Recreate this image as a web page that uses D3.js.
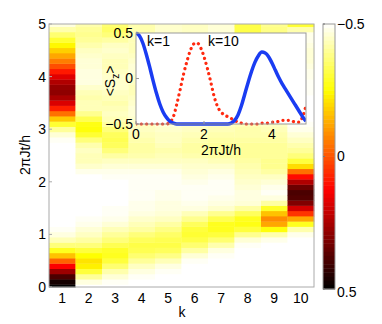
<!DOCTYPE html>
<html>
<head>
<meta charset="utf-8">
<script src="https://cdn.jsdelivr.net/npm/d3@7"></script>
<style>
  body { margin: 0; background: #fff; }
  text { font-family: "Liberation Sans", Arial, sans-serif; font-size: 14px; fill: #000; }
</style>
</head>
<body>
<div class="content"></div>
<script>
// DATA  (<Sz> per site k, sampled every 0.1 in 2*pi*J*t/h from 0 to 5)
var ks = [1, 2, 3, 4, 5, 6, 7, 8, 9, 10];
var times = d3.range(51).map(function(i) { return +(i * 0.1).toFixed(1); });

var k1 = [0.50, 0.47, 0.39, 0.27, 0.13, -0.02, -0.16, -0.28, -0.37, -0.43,
  -0.47, -0.49, -0.50, -0.50, -0.50, -0.50, -0.50, -0.50, -0.50, -0.50,
  -0.50, -0.50, -0.50, -0.50, -0.50, -0.50, -0.50, -0.50, -0.49, -0.46,
  -0.40, -0.30, -0.17, -0.04, 0.08, 0.18, 0.25, 0.29, 0.28, 0.24,
  0.17, 0.09, 0.01, -0.06, -0.12, -0.18, -0.24, -0.30, -0.36, -0.42, -0.47];
var k2 = [-0.50, -0.47, -0.40, -0.31, -0.23, -0.21, -0.25, -0.31, -0.37, -0.41,
  -0.44, -0.46, -0.48, -0.49, -0.50, -0.50, -0.50, -0.50, -0.50, -0.50,
  -0.50, -0.50, -0.48, -0.45, -0.43, -0.43, -0.44, -0.42, -0.37, -0.30,
  -0.26, -0.27, -0.33, -0.39, -0.43, -0.43, -0.42, -0.43, -0.45, -0.47,
  -0.47, -0.47, -0.46, -0.46, -0.45, -0.44, -0.42, -0.40, -0.39, -0.40, -0.42];
var k3 = [-0.50, -0.49, -0.46, -0.42, -0.36, -0.31, -0.28, -0.29, -0.33, -0.37,
  -0.40, -0.43, -0.46, -0.48, -0.49, -0.49, -0.50, -0.50, -0.50, -0.50,
  -0.50, -0.49, -0.48, -0.46, -0.44, -0.41, -0.37, -0.34, -0.33, -0.34,
  -0.37, -0.41, -0.43, -0.44, -0.43, -0.42, -0.43, -0.44, -0.45, -0.45,
  -0.45, -0.44, -0.43, -0.43, -0.44, -0.45, -0.44, -0.41, -0.37, -0.35, -0.36];
var k4 = [-0.50, -0.50, -0.49, -0.47, -0.44, -0.40, -0.36, -0.33, -0.32, -0.34,
  -0.37, -0.41, -0.43, -0.45, -0.47, -0.48, -0.48, -0.49, -0.49, -0.49,
  -0.49, -0.49, -0.48, -0.46, -0.44, -0.42, -0.41, -0.41, -0.42, -0.43,
  -0.44, -0.44, -0.45, -0.46, -0.46, -0.45, -0.44, -0.43, -0.43, -0.44,
  -0.45, -0.46, -0.46, -0.45, -0.44, -0.43, -0.43, -0.43, -0.43, -0.42, -0.42];
var k5 = [-0.50, -0.50, -0.50, -0.49, -0.47, -0.43, -0.38, -0.34, -0.32, -0.33,
  -0.35, -0.38, -0.41, -0.44, -0.46, -0.47, -0.47, -0.48, -0.48, -0.49,
  -0.49, -0.49, -0.48, -0.46, -0.44, -0.43, -0.42, -0.43, -0.44, -0.44,
  -0.45, -0.46, -0.46, -0.46, -0.45, -0.44, -0.44, -0.44, -0.45, -0.46,
  -0.46, -0.46, -0.45, -0.45, -0.45, -0.45, -0.45, -0.45, -0.45, -0.45, -0.45];
var k6 = [-0.50, -0.50, -0.50, -0.50, -0.50, -0.49, -0.46, -0.41, -0.36, -0.32,
  -0.30, -0.31, -0.34, -0.39, -0.43, -0.47, -0.48, -0.49, -0.49, -0.49,
  -0.48, -0.47, -0.46, -0.45, -0.44, -0.42, -0.41, -0.41, -0.42, -0.43,
  -0.44, -0.45, -0.46, -0.46, -0.46, -0.45, -0.44, -0.44, -0.44, -0.45,
  -0.46, -0.46, -0.46, -0.45, -0.45, -0.44, -0.44, -0.44, -0.44, -0.44, -0.44];
var k7 = [-0.50, -0.50, -0.50, -0.50, -0.50, -0.50, -0.49, -0.47, -0.42, -0.36,
  -0.31, -0.28, -0.28, -0.33, -0.39, -0.45, -0.47, -0.48, -0.49, -0.49,
  -0.49, -0.48, -0.47, -0.45, -0.43, -0.41, -0.40, -0.40, -0.41, -0.42,
  -0.43, -0.44, -0.45, -0.46, -0.46, -0.46, -0.45, -0.44, -0.44, -0.44,
  -0.45, -0.46, -0.46, -0.46, -0.46, -0.46, -0.46, -0.46, -0.46, -0.46, -0.46];
var k8 = [-0.50, -0.50, -0.50, -0.50, -0.50, -0.50, -0.50, -0.50, -0.49, -0.46,
  -0.39, -0.31, -0.27, -0.28, -0.34, -0.41, -0.46, -0.47, -0.47, -0.46,
  -0.45, -0.44, -0.43, -0.42, -0.41, -0.40, -0.40, -0.40, -0.41, -0.42,
  -0.42, -0.43, -0.44, -0.45, -0.46, -0.46, -0.45, -0.44, -0.43, -0.42,
  -0.42, -0.41, -0.40, -0.39, -0.38, -0.37, -0.36, -0.35, -0.34, -0.32, -0.32];
var k9 = [-0.50, -0.50, -0.50, -0.50, -0.50, -0.50, -0.50, -0.50, -0.50, -0.48,
  -0.42, -0.26, -0.12, -0.08, -0.16, -0.29, -0.41, -0.47, -0.49, -0.48,
  -0.46, -0.44, -0.41, -0.39, -0.39, -0.40, -0.40, -0.40, -0.41, -0.42,
  -0.43, -0.44, -0.45, -0.46, -0.46, -0.47, -0.47, -0.46, -0.45, -0.44,
  -0.43, -0.42, -0.41, -0.40, -0.40, -0.39, -0.39, -0.38, -0.38, -0.38, -0.39];
var k10 = [-0.50, -0.50, -0.50, -0.50, -0.50, -0.50, -0.50, -0.50, -0.50, -0.50,
  -0.48, -0.42, -0.28, -0.12, 0.05, 0.19, 0.31, 0.38, 0.39, 0.34,
  0.24, 0.11, -0.04, -0.20, -0.31, -0.37, -0.40, -0.42, -0.44, -0.46,
  -0.48, -0.49, -0.50, -0.50, -0.50, -0.50, -0.50, -0.49, -0.49, -0.49,
  -0.48, -0.48, -0.47, -0.46, -0.46, -0.46, -0.47, -0.48, -0.48, -0.42, -0.30];

var szByK = [k1, k2, k3, k4, k5, k6, k7, k8, k9, k10];

var yTicks = [0, 1, 2, 3, 4, 5];
var insetXTicks = [0, 2, 4];
var insetYTicks = [-0.5, 0, 0.5];
var cbarTicks = [-0.5, 0, 0.5];

// LAYOUT
var w = 382, h = 324;
var plot = {left: 49, right: 314, top: 24, bottom: 287};
var inset = {left: 136, right: 306, top: 33, bottom: 124};
var cbar = {left: 323, right: 335, top: 24, bottom: 289};

var svg = d3.select('.content').append('svg')
    .attr('width', w)
    .attr('height', h);

// hot colormap, reversed: -0.5 white ... 0.5 black
var color = d3.scaleLinear()
    .domain([-0.5, -0.25, 0.125, 0.5])
    .range(['#ffffff', '#ffff00', '#ff0000', '#000000'])
    .clamp(true);

// SCALES
var x = d3.scaleBand().domain(ks).range([plot.left, plot.right]).padding(0);
var y = d3.scaleLinear().domain([0, 5]).range([plot.bottom, plot.top]);

// HEATMAP
var cells = [];
szByK.forEach(function(col, ci) {
    col.forEach(function(v, ti) {
        cells.push({k: ks[ci], t: times[ti], v: v});
    });
});

svg.append('g').selectAll('rect')
    .data(cells)
    .enter()
    .append('rect')
    .attr('x', function(d) { return x(d.k); })
    .attr('width', x.bandwidth() + 0.3)
    .attr('y', function(d) { return y(Math.min(5, d.t + 0.05)); })
    .attr('height', function(d) { return y(Math.max(0, d.t - 0.05)) - y(Math.min(5, d.t + 0.05)) + 0.4; })
    .attr('fill', function(d) { return color(d.v); });

// main box + ticks
svg.append('rect')
    .attr('x', plot.left).attr('y', plot.top)
    .attr('width', plot.right - plot.left).attr('height', plot.bottom - plot.top)
    .attr('fill', 'none').attr('stroke', '#aaa').attr('stroke-width', 1);

svg.append('g').selectAll('line')
    .data(yTicks).enter().append('line')
    .attr('x1', plot.left).attr('x2', plot.left + 3)
    .attr('y1', function(d) { return y(d); }).attr('y2', function(d) { return y(d); })
    .attr('stroke', '#aaa');

svg.append('g').selectAll('text')
    .data(yTicks).enter().append('text')
    .attr('x', plot.left - 3)
    .attr('y', function(d) { return y(d); })
    .attr('dy', '0.35em')
    .attr('text-anchor', 'end')
    .text(function(d) { return d; });

svg.append('g').selectAll('text')
    .data(ks).enter().append('text')
    .attr('x', function(d) { return x(d) + x.bandwidth() / 2; })
    .attr('y', 303)
    .attr('text-anchor', 'middle')
    .text(function(d) { return d; });

svg.append('text')
    .attr('x', 182).attr('y', 317)
    .attr('text-anchor', 'middle')
    .text('k');

svg.append('text')
    .attr('transform', 'translate(30,155) rotate(-90)')
    .attr('text-anchor', 'middle')
    .text('2πJt/h');

// INSET
var ix = d3.scaleLinear().domain([0, 5]).range([inset.left, inset.right]);
var iy = d3.scaleLinear().domain([-0.5, 0.5]).range([inset.bottom, inset.top]);

var gi = svg.append('g');
gi.append('rect')
    .attr('x', inset.left).attr('y', inset.top)
    .attr('width', inset.right - inset.left).attr('height', inset.bottom - inset.top)
    .attr('fill', '#fff');

svg.append('clipPath').attr('id', 'inset-clip')
    .append('rect')
    .attr('x', inset.left).attr('y', inset.top - 2)
    .attr('width', inset.right - inset.left).attr('height', inset.bottom - inset.top + 4);

var line = d3.line()
    .x(function(d, i) { return ix(times[i]); })
    .y(function(d) { return iy(d); })
    .curve(d3.curveMonotoneX);

gi.append('path')
    .attr('d', line(k10))
    .attr('clip-path', 'url(#inset-clip)')
    .attr('fill', 'none')
    .attr('stroke', '#ff2a10')
    .attr('stroke-width', 3.2)
    .attr('stroke-linecap', 'round')
    .attr('stroke-dasharray', '0.1,5.2');

gi.append('path')
    .attr('d', line(k1))
    .attr('clip-path', 'url(#inset-clip)')
    .attr('fill', 'none')
    .attr('stroke', '#1a3cf2')
    .attr('stroke-width', 3.5);

gi.append('rect')
    .attr('x', inset.left).attr('y', inset.top)
    .attr('width', inset.right - inset.left).attr('height', inset.bottom - inset.top)
    .attr('fill', 'none').attr('stroke', '#999');

gi.append('g').selectAll('line')
    .data(insetXTicks).enter().append('line')
    .attr('x1', function(d) { return ix(d); }).attr('x2', function(d) { return ix(d); })
    .attr('y1', inset.bottom).attr('y2', inset.bottom - 3)
    .attr('stroke', '#999');

gi.append('g').selectAll('line')
    .data(insetYTicks).enter().append('line')
    .attr('x1', inset.left).attr('x2', inset.left + 3)
    .attr('y1', function(d) { return iy(d); }).attr('y2', function(d) { return iy(d); })
    .attr('stroke', '#999');

gi.append('g').selectAll('text')
    .data(insetXTicks).enter().append('text')
    .attr('x', function(d) { return ix(d); })
    .attr('y', 139)
    .attr('text-anchor', 'middle')
    .text(function(d) { return d; });

gi.append('g').selectAll('text')
    .data(insetYTicks).enter().append('text')
    .attr('x', inset.left - 3)
    .attr('y', function(d) { return iy(d); })
    .attr('dy', '0.35em')
    .attr('text-anchor', 'end')
    .text(function(d) { return d === 0 ? '0' : (d < 0 ? '\u22120.5' : '0.5'); });

gi.append('text')
    .attr('x', ix(2.5)).attr('y', 155)
    .attr('text-anchor', 'middle')
    .text('2πJt/h');

var sl = gi.append('text')
    .attr('transform', 'translate(115,81) rotate(-90)')
    .attr('text-anchor', 'middle');
sl.append('tspan').text('<S');
sl.append('tspan').attr('dy', 4).attr('font-size', '10px').text('z');
sl.append('tspan').attr('dy', -4).text('>');

gi.append('text').attr('x', 147).attr('y', 46).text('k=1');
gi.append('text').attr('x', 208).attr('y', 46).text('k=10');

// COLORBAR
var cy = d3.scaleLinear().domain([-0.5, 0.5]).range([cbar.top, cbar.bottom]);
var levels = d3.range(64).map(function(i) { return -0.5 + (i + 0.5) / 64; });
var step = (cbar.bottom - cbar.top) / 64;

svg.append('g').selectAll('rect')
    .data(levels).enter().append('rect')
    .attr('x', cbar.left)
    .attr('width', cbar.right - cbar.left)
    .attr('y', function(d) { return cy(d) - step / 2; })
    .attr('height', step + 0.4)
    .attr('fill', function(d) { return color(d); });

svg.append('rect')
    .attr('x', cbar.left).attr('y', cbar.top)
    .attr('width', cbar.right - cbar.left).attr('height', cbar.bottom - cbar.top)
    .attr('fill', 'none').attr('stroke', '#999');

svg.append('g').selectAll('line')
    .data(cbarTicks).enter().append('line')
    .attr('x1', cbar.left).attr('x2', cbar.left + 2)
    .attr('y1', function(d) { return cy(d); }).attr('y2', function(d) { return cy(d); })
    .attr('stroke', '#777');

svg.append('g').selectAll('text')
    .data(cbarTicks).enter().append('text')
    .attr('x', cbar.right + 2)
    .attr('y', function(d) { return cy(d) + (d > 0 ? 3 : 0); })
    .attr('dy', '0.35em')
    .text(function(d) { return d === 0 ? '0' : (d < 0 ? '\u22120.5' : '0.5'); });
</script>
</body>
</html>
